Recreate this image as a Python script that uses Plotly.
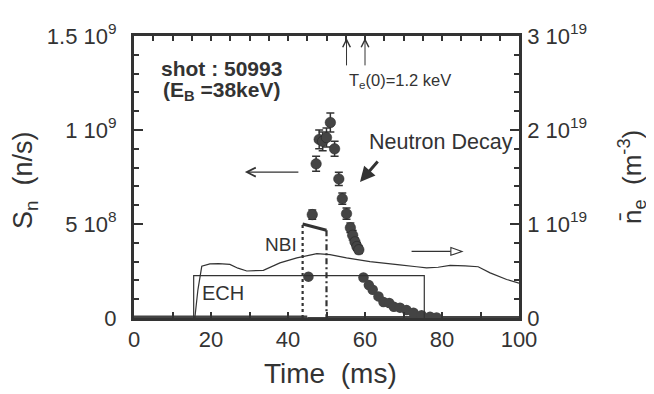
import plotly.graph_objects as go

# ---------------- data ----------------
# Neutron source rate S_n (n/s), main (upper) series with error bars
sn_time = [46.3, 47.3, 48.1, 49.0, 50.0, 51.0, 52.1, 53.2, 54.1, 55.2, 56.2, 56.8, 57.4, 57.9, 58.4]
sn_vals = [5.5e8, 8.2e8, 9.5e8, 9.4e8, 9.6e8, 10.4e8, 9.0e8, 7.4e8, 6.35e8, 5.55e8, 4.8e8, 4.4e8, 4.05e8, 3.8e8, 3.63e8]
sn_err = [2.5e7, 4e7, 5e7, 5e7, 5e7, 5e7, 4e7, 3.5e7, 3e7, 3e7, 2.5e7, 2.5e7, 2e7, 2e7, 2e7]

# second (lower) neutron series
sn2_time = [45.3, 59.6, 61.0, 62.0, 63.5, 64.8, 66.3, 67.5, 69.1, 70.8, 72.6, 74.7, 76.9, 78.6]
sn2_vals = [2.2e8, 2.15e8, 1.75e8, 1.5e8, 1.15e8, 0.85e8, 0.8e8, 0.6e8, 0.55e8, 0.42e8, 0.28e8, 0.15e8, 0.07e8, 0.03e8]

# baseline (zero-level) data
base_time_a = [0, 45]
base_time_b = [50, 100]
base_time_c = [45, 50]
base_vals2 = [0, 0]

# line-averaged electron density (units of 1e19 m^-3)
ne_time = [15.8, 16.6, 17.6, 19.7, 22.0, 24.9, 27.0, 29.3, 33.6, 37.9, 42.3, 47.5, 50.9, 55.2,
           61.3, 65.0, 69.0, 73.4, 76.0, 79.0, 82.1, 86.0, 89.4, 92.5, 96.8, 100.0]
ne_vals = [0.0, 0.30, 0.55, 0.576, 0.578, 0.57, 0.53, 0.50, 0.507, 0.586, 0.64, 0.684, 0.674, 0.64,
           0.60, 0.58, 0.565, 0.545, 0.534, 0.54, 0.56, 0.555, 0.545, 0.48, 0.41, 0.37]

# heating pulses
nbi_time = [43.8, 43.8, 50.0, 50.0]
nbi_level = [0, 5.0e8, 4.67e8, 0]
ech_time = [15.5, 15.5, 75.4, 75.4]
ech_level = [0, 0.45, 0.45, 0]          # drawn on density axis (1e19)

te_arrow_times = [55.2, 60.0]

# ticks
x_ticks = [0, 20, 40, 60, 80, 100]
sn_ticks = [0, 5e8, 1e9, 1.5e9]
sn_ticktext = ["0", "5 10<sup>8</sup>", "1 10<sup>9</sup>", "1.5 10<sup>9</sup>"]
ne_ticks = [0, 1, 2, 3]
ne_ticktext = ["0", "1 10<sup>19</sup>", "2 10<sup>19</sup>", "3 10<sup>19</sup>"]

# ---------------- figure ----------------
INK = "#333333"
FONT = "Liberation Sans, Arial, Helvetica, sans-serif"

fig = go.Figure()

# baseline thick lines
fig.add_trace(go.Scatter(x=base_time_a, y=base_vals2, mode="lines",
                         line=dict(color="#444444", width=5), hoverinfo="skip", showlegend=False))
fig.add_trace(go.Scatter(x=base_time_b, y=base_vals2, mode="lines",
                         line=dict(color="#444444", width=4), hoverinfo="skip", showlegend=False))
fig.add_trace(go.Scatter(x=base_time_c, y=base_vals2, mode="lines",
                         line=dict(color="#444444", width=2), hoverinfo="skip", showlegend=False))

# ECH box (density axis)
fig.add_trace(go.Scatter(x=ech_time, y=ech_level, mode="lines", yaxis="y2",
                         line=dict(color=INK, width=1.2), hoverinfo="skip", showlegend=False))

# density trace
fig.add_trace(go.Scatter(x=ne_time, y=ne_vals, mode="lines", yaxis="y2",
                         line=dict(color=INK, width=1.2), hoverinfo="skip", showlegend=False))

# NBI box: dashed verticals + solid top
fig.add_trace(go.Scatter(x=[nbi_time[0], nbi_time[1]], y=[nbi_level[0], nbi_level[1]], mode="lines",
                         line=dict(color=INK, width=2.2, dash="3px,3px"), hoverinfo="skip", showlegend=False))
fig.add_trace(go.Scatter(x=[nbi_time[2], nbi_time[3]], y=[nbi_level[2], nbi_level[3]], mode="lines",
                         line=dict(color=INK, width=2.2, dash="6px,3px,2px,3px"), hoverinfo="skip", showlegend=False))
fig.add_trace(go.Scatter(x=[nbi_time[1], nbi_time[2]], y=[nbi_level[1], nbi_level[2]], mode="lines",
                         line=dict(color=INK, width=3), hoverinfo="skip", showlegend=False))

# lower neutron series
fig.add_trace(go.Scatter(x=sn2_time, y=sn2_vals, mode="markers",
                         marker=dict(color="#444444", size=10.5, line=dict(width=0)),
                         hoverinfo="skip", showlegend=False))

# main neutron series with error bars
fig.add_trace(go.Scatter(x=sn_time, y=sn_vals, mode="markers",
                         marker=dict(color="#444444", size=10.5, line=dict(width=0.5, color="#222222")),
                         error_y=dict(type="data", array=sn_err, visible=True, color=INK,
                                      thickness=1.5, width=4),
                         hoverinfo="skip", showlegend=False))

# invisible traces for the top axis and the left tick-label axis
fig.add_trace(go.Scatter(x=[0, 100], y=[0, 0], xaxis="x2", mode="lines",
                         line=dict(width=0), hoverinfo="skip", showlegend=False))
fig.add_trace(go.Scatter(x=[0, 100], y=[0, 0], yaxis="y3", mode="lines",
                         line=dict(width=0), hoverinfo="skip", showlegend=False))

axis_common = dict(showline=True, linecolor=INK, linewidth=2.5, ticks="inside",
                   tickcolor=INK, tickwidth=1.5, showgrid=False, zeroline=False,
                   tickfont=dict(family=FONT, size=22, color=INK))

# page has an 8px body margin: compensate so that the plot area sits at x 134..519, y 30..318
fig.update_layout(
    width=646, height=386,
    margin=dict(l=126, r=135, t=22, b=76),
    paper_bgcolor="white", plot_bgcolor="white",
    showlegend=False,
    xaxis=dict(range=[0, 100], tickmode="array", tickvals=x_ticks, ticklen=6,
               minor=dict(tickmode="linear", tick0=0, dtick=10, ticks="inside", ticklen=6,
                          tickcolor=INK, tickwidth=1.5),
               **axis_common),
    xaxis2=dict(range=[0, 100], overlaying="x", side="top", anchor="y",
                showticklabels=False, tickmode="linear", tick0=0, dtick=5, ticklen=5,
                **axis_common),
    yaxis=dict(range=[0, 1.5e9], tickmode="array", tickvals=sn_ticks, ticklen=9,
               showticklabels=False,
               minor=dict(tickmode="linear", tick0=0, dtick=1e8, ticks="inside", ticklen=5,
                          tickcolor=INK, tickwidth=1.5),
               **axis_common),
    # label-only axis: invisible outside ticks set the gap between frame and labels
    yaxis3=dict(range=[0, 1.5e9], overlaying="y", side="left", anchor="free", position=0,
                tickmode="array", tickvals=sn_ticks, ticktext=sn_ticktext,
                showline=False, ticks="outside", ticklen=13, tickcolor="rgba(0,0,0,0)",
                showgrid=False, zeroline=False,
                tickfont=dict(family=FONT, size=22, color=INK)),
    yaxis2=dict(range=[0, 3], overlaying="y", side="right", anchor="x",
                tickmode="array", tickvals=ne_ticks, ticktext=ne_ticktext,
                ticklen=9, ticklabelstandoff=1,
                minor=dict(tickmode="linear", tick0=0, dtick=0.2, ticks="inside", ticklen=5,
                           tickcolor=INK, tickwidth=1.5),
                **axis_common),
)

ann = []
# axis titles
ann.append(dict(text="Time  (ms)", xref="paper", yref="paper", x=(330 - 134) / 385, y=(318 - 375) / 288,
                xanchor="center", yanchor="middle", showarrow=False,
                font=dict(family=FONT, size=28, color=INK)))
ann.append(dict(text="S<sub>n</sub>  (n/s)", xref="paper", yref="paper", x=(25 - 134) / 385, y=(318 - 177) / 288,
                xanchor="center", yanchor="middle", showarrow=False, textangle=-90,
                font=dict(family=FONT, size=27, color=INK)))
ann.append(dict(text="n\u0304<sub>e</sub>  (m<sup>-3</sup>)", xref="paper", yref="paper",
                x=1 + (632 - 519) / 385, y=(318 - 174) / 288,
                xanchor="center", yanchor="middle", showarrow=False, textangle=-90,
                font=dict(family=FONT, size=26, color=INK)))
# labels
ann.append(dict(text="<b>shot : 50993</b>", x=22.7, y=(318 - 63) / 288 * 1.5e9, xref="x", yref="y",
                showarrow=False, xanchor="center", yanchor="middle",
                font=dict(family=FONT, size=21, color=INK)))
ann.append(dict(text="<b>(E<sub>B</sub> =38keV)</b>", x=22.7, y=(318 - 86) / 288 * 1.5e9, xref="x", yref="y",
                showarrow=False, xanchor="center", yanchor="middle",
                font=dict(family=FONT, size=21, color=INK)))
ann.append(dict(text="T<sub>e</sub>(0)=1.2 keV", x=69.1, y=(318 - 76) / 288 * 1.5e9, xref="x", yref="y",
                showarrow=False, xanchor="center", yanchor="middle",
                font=dict(family=FONT, size=16.5, color=INK)))
ann.append(dict(text="Neutron Decay", x=60.5, y=(318 - 138) / 288 * 1.5e9, xref="x", yref="y",
                showarrow=False, xanchor="left", yanchor="middle",
                font=dict(family=FONT, size=21.5, color=INK)))
ann.append(dict(text="NBI", x=38.2, y=(318 - 243) / 288 * 1.5e9, xref="x", yref="y",
                showarrow=False, xanchor="center", yanchor="middle",
                font=dict(family=FONT, size=19, color=INK)))
ann.append(dict(text="ECH", x=23.0, y=(318 - 292) / 288 * 1.5e9, xref="x", yref="y",
                showarrow=False, xanchor="center", yanchor="middle",
                font=dict(family=FONT, size=20, color=INK)))
# Te arrows
for t in te_arrow_times:
    ann.append(dict(text="", x=t, y=1.49e9, xref="x", yref="y", ax=0, ay=29,
                    showarrow=True, arrowhead=5, arrowsize=1.5, arrowwidth=1, arrowcolor=INK))
# neutron decay arrow
ann.append(dict(text="", x=58.7, y=(318 - 179) / 288 * 1.5e9, xref="x", yref="y", ax=19, ay=-22,
                showarrow=True, arrowhead=2, arrowsize=1, arrowwidth=3, arrowcolor=INK))
# left-pointing arrow (S_n axis)
ann.append(dict(text="", x=28.8, y=(318 - 169) / 288 * 1.5e9, xref="x", yref="y", ax=55, ay=0,
                showarrow=True, arrowhead=5, arrowsize=1.6, arrowwidth=1.1, arrowcolor=INK))
fig.update_layout(annotations=ann)

# right-pointing arrow with open head (density axis)
ya = (318 - 250) / 288 * 3
hh = 4 / 288 * 3
fig.add_shape(type="line", xref="x", yref="y2", x0=72.1, x1=82.3, y0=ya, y1=ya,
              line=dict(color=INK, width=1.1))
fig.add_shape(type="path", xref="x", yref="y2",
              path=f"M 82.3,{ya + hh} L 85.2,{ya} L 82.3,{ya - hh} Z",
              line=dict(color=INK, width=1.1), fillcolor="white")

fig.write_html("out.html")
